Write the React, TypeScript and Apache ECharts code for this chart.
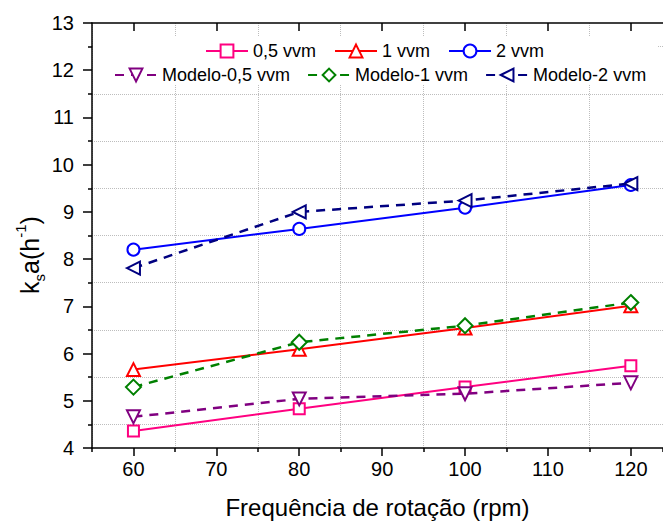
import React, { useEffect, useRef } from "react";
import * as echarts from "echarts";

const rpm = [60, 80, 100, 120];
const exp05 = [4.36, 4.83, 5.29, 5.74];
const exp1 = [5.66, 6.09, 6.54, 7.01];
const exp2 = [8.2, 8.64, 9.09, 9.57];
const mod05 = [4.66, 5.04, 5.15, 5.38];
const mod1 = [5.29, 6.24, 6.59, 7.08];
const mod2 = [7.81, 9.0, 9.24, 9.6];

const xMajorTicks = [60, 70, 80, 90, 100, 110, 120];
const X_MIN = 55;
const X_MAX = 123.88;
const legendRow1 = ["0,5 vvm", "1 vvm", "2 vvm"];
const legendRow2 = ["Modelo-0,5 vvm", "Modelo-1 vvm", "Modelo-2 vvm"];
const xTitle = "Frequência de rotação (rpm)";

const FONT = "'Liberation Sans', Arial, Helvetica, sans-serif";

function pairs(ys: number[]) {
  return rpm.map((x, i) => [x, ys[i]]);
}

export default function App() {
  const ref = useRef<HTMLDivElement>(null);
  useEffect(() => {
    document.body.style.margin = "0";
    if (!ref.current) return;
    const chart = echarts.init(ref.current, undefined, { renderer: "svg" });
    const solid = (name: string, data: number[], color: string, symbol: string, size: number, rotate = 0) => ({
      name,
      type: "line",
      data: pairs(data),
      symbol,
      symbolSize: size,
      symbolRotate: rotate,
      showAllSymbol: true,
      lineStyle: { color, width: 2 },
      itemStyle: { color, borderWidth: 2 },
      emphasis: { disabled: true },
      xAxisIndex: 0,
      yAxisIndex: 0,
      z: 3,
    });
    const dashed = (name: string, data: number[], color: string, symbol: string, size: number, rotate = 0) => ({
      name,
      type: "line",
      data: pairs(data),
      symbol,
      symbolSize: size,
      symbolRotate: rotate,
      showAllSymbol: true,
      lineStyle: { color, width: 2.5, type: [9, 7] },
      itemStyle: { color, borderWidth: 2 },
      emphasis: { disabled: true },
      xAxisIndex: 0,
      yAxisIndex: 0,
      z: 4,
    });
    const gridLine = { show: true, lineStyle: { color: "#bdbdbd", type: "dotted", width: 1 } };
    const legendCommon = {
      padding: 0,
      itemWidth: 42,
      itemHeight: 16,
      textStyle: { fontSize: 18, color: "#000", fontFamily: FONT },
      selectedMode: false,
    };
    const option: any = {
      animation: false,
      backgroundColor: "#ffffff",
      grid: { left: 92, top: 23, right: 0, bottom: 73, containLabel: false, outerBoundsMode: "none" },
      xAxis: [
        {
          type: "value",
          position: "bottom",
          min: X_MIN,
          max: X_MAX,
          axisLine: { show: true, onZero: false, lineStyle: { color: "#000", width: 1.5 } },
          axisTick: { show: true, inside: false, length: 8, customValues: xMajorTicks, lineStyle: { color: "#000", width: 1.5 } },
          axisLabel: { show: true, customValues: xMajorTicks, fontSize: 20, color: "#000", fontFamily: FONT, margin: 11 },
          splitLine: { show: false },
          name: xTitle,
          nameLocation: "middle",
          nameGap: 47,
          nameTextStyle: { fontSize: 24, color: "#000", fontFamily: FONT },
        },
        {
          type: "value",
          position: "bottom",
          min: X_MIN,
          max: X_MAX,
          interval: 10,
          axisLine: { show: false, onZero: false },
          axisTick: { show: true, inside: false, length: 4, lineStyle: { color: "#000", width: 1.5 } },
          axisLabel: { show: false },
          splitLine: gridLine,
        },
        {
          type: "value",
          position: "top",
          min: X_MIN,
          max: X_MAX,
          axisLine: { show: true, onZero: false, lineStyle: { color: "#000", width: 1.5 } },
          axisTick: { show: true, inside: true, length: 8, customValues: xMajorTicks, lineStyle: { color: "#000", width: 1.5 } },
          axisLabel: { show: false },
          splitLine: { show: false },
        },
      ],
      yAxis: [
        {
          type: "value",
          position: "left",
          min: 4,
          max: 13,
          interval: 1,
          axisLine: { show: true, onZero: false, lineStyle: { color: "#000", width: 1.5 } },
          axisTick: { show: true, inside: false, length: 9, lineStyle: { color: "#000", width: 1.5 } },
          minorTick: { show: true, splitNumber: 2, length: 4, lineStyle: { color: "#000", width: 1.5 } },
          minorSplitLine: gridLine,
          splitLine: { show: false },
          axisLabel: { fontSize: 20, color: "#000", fontFamily: FONT, margin: 18 },
        },
      ],
      legend: [
        { ...legendCommon, data: legendRow1, left: 205, top: 42, itemGap: 18 },
        { ...legendCommon, data: legendRow2, left: 114, top: 66, itemGap: 17 },
      ],
      graphic: [
        {
          type: "rect",
          z: 1,
          shape: { x: 93, y: 37, width: 564, height: 47 },
          style: { fill: "#ffffff" },
          silent: true,
        },
        {
          type: "text",
          z: 5,
          x: 30,
          y: 255,
          rotation: Math.PI / 2,
          style: {
            text: "{a|k}{s|s}{a|a(h}{p|-1}{a|)}",
            align: "center",
            verticalAlign: "middle",
            fill: "#000",
            rich: {
              a: { fontSize: 25, lineHeight: 34, fontFamily: FONT, fill: "#000", verticalAlign: "middle" },
              s: { fontSize: 15, fontFamily: FONT, fill: "#000", verticalAlign: "bottom" },
              p: { fontSize: 15, fontFamily: FONT, fill: "#000", verticalAlign: "top" },
            },
          },
        },
      ],
      series: [
        solid("0,5 vvm", exp05, "#FF0080", "emptyRect", 11),
        solid("1 vvm", exp1, "#FF0000", "emptyTriangle", 13),
        solid("2 vvm", exp2, "#0000FF", "emptyCircle", 12),
        dashed("Modelo-0,5 vvm", mod05, "#800080", "emptyTriangle", 13, 180),
        dashed("Modelo-1 vvm", mod1, "#008000", "emptyDiamond", 15),
        dashed("Modelo-2 vvm", mod2, "#000080", "emptyTriangle", 13, 90),
      ],
    };
    chart.setOption(option);
    return () => chart.dispose();
  }, []);
  return (
    <div
      ref={ref}
      style={{ position: "absolute", left: 0, top: 0, width: 663, height: 521, overflow: "hidden" }}
    />
  );
}
